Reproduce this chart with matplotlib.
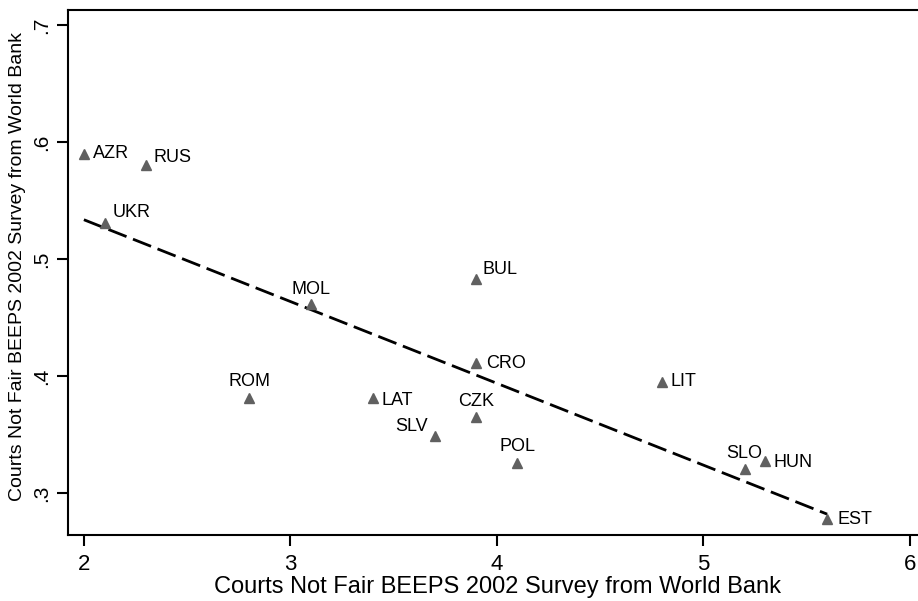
import numpy as np
import matplotlib
matplotlib.use('Agg')
from matplotlib import pyplot as plt

plt.rcParams['font.family'] = ['Liberation Sans', 'DejaVu Sans']

# country codes and values
countries = ['AZR', 'RUS', 'UKR', 'MOL', 'BUL', 'CRO', 'ROM', 'LAT',
             'CZK', 'SLV', 'POL', 'LIT', 'SLO', 'HUN', 'EST']
x_vals = [2.0, 2.3, 2.1, 3.1, 3.9, 3.9, 2.8, 3.4, 3.9, 3.7, 4.1, 4.8, 5.2, 5.3, 5.6]
y_vals = [0.590, 0.580, 0.531, 0.4615, 0.483, 0.411, 0.381, 0.381,
          0.365, 0.349, 0.326, 0.395, 0.3205, 0.327, 0.278]
x_ticks = [2, 3, 4, 5, 6]
y_ticks = [0.3, 0.4, 0.5, 0.6, 0.7]
y_ticklabels = ['.3', '.4', '.5', '.6', '.7']

# label placement: (dx px, dy px, ha, va)
lab_pos = {
    'AZR': (9, 0, 'left', 'center'),
    'RUS': (8, 8, 'left', 'center'),
    'UKR': (8, 10, 'left', 'center'),
    'MOL': (0, 6, 'center', 'bottom'),
    'BUL': (6, 9, 'left', 'center'),
    'CRO': (10, 0, 'left', 'center'),
    'ROM': (0, 8, 'center', 'bottom'),
    'LAT': (9, -2, 'left', 'center'),
    'CZK': (0, 7, 'center', 'bottom'),
    'SLV': (-7, 9, 'right', 'center'),
    'POL': (0, 8, 'center', 'bottom'),
    'LIT': (9, 0, 'left', 'center'),
    'SLO': (0, 7, 'center', 'bottom'),
    'HUN': (8, -1, 'left', 'center'),
    'EST': (10, -1, 'left', 'center'),
}

fig = plt.figure(figsize=(9.18, 6.01), dpi=100)
ax = fig.add_axes([68/918, 66/601, 850/918, 525/601])

# fitted line
b, a = np.polyfit(x_vals, y_vals, 1)
xs = np.array([min(x_vals), max(x_vals)])
ax.plot(xs, a + b*xs, color='black', lw=2, dashes=(7, 2.5))

ax.plot(x_vals, y_vals, linestyle='none', marker='^', markersize=7,
        color='#606060', markeredgecolor='#606060')

px2pt = 72/100
for c, xv, yv in zip(countries, x_vals, y_vals):
    dx, dy, ha, va = lab_pos[c]
    ax.annotate(c, (xv, yv), xytext=(dx*px2pt, dy*px2pt), textcoords='offset points',
                ha=ha, va=va, fontsize=13, color='black')

ax.set_xlim(1.923, 6.04)
ax.set_ylim(0.2641, 0.7128)
ax.set_xticks(x_ticks)
ax.set_xticklabels([str(t) for t in x_ticks])
ax.set_yticks(y_ticks)
ax.set_yticklabels(y_ticklabels, rotation=90, va='center')

for s in ['left', 'bottom', 'top']:
    ax.spines[s].set_linewidth(1.5)
ax.spines['right'].set_visible(False)
ax.tick_params(axis='both', direction='out', length=8, width=1.5)
ax.tick_params(axis='x', pad=6, labelsize=16)
ax.tick_params(axis='y', pad=4, labelsize=15)

fig.text(497/918, 1 - 587/601, 'Courts Not Fair BEEPS 2002 Survey from World Bank',
         ha='center', va='center', fontsize=17)
fig.text(18/918, 1 - 266/601, 'Courts Not Fair BEEPS 2002 Survey from World Bank',
         ha='center', va='center', fontsize=14, rotation=90)

fig.savefig('out.png', dpi=100)
